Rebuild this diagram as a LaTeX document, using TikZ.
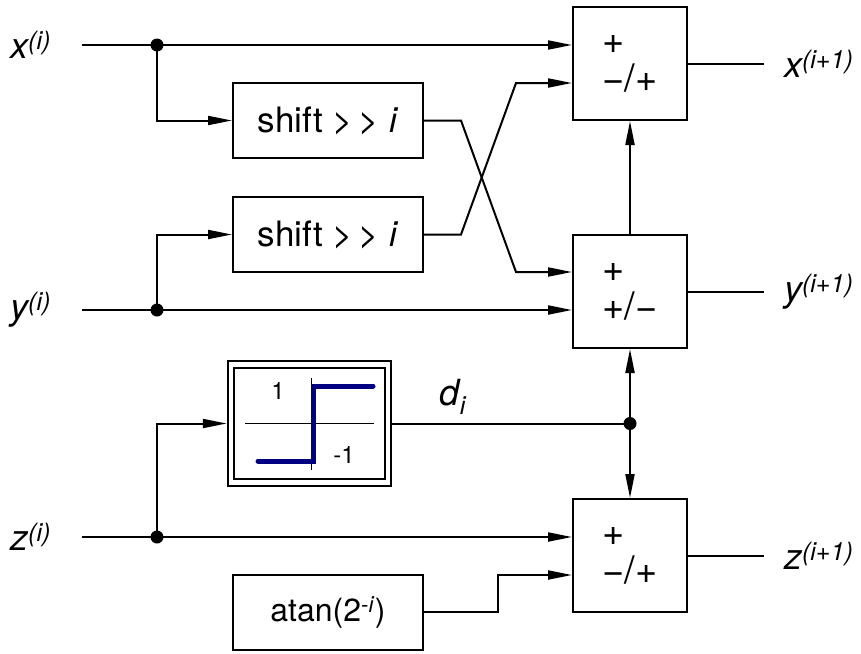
\documentclass[tikz,border=0pt]{standalone}
\usepackage{fontspec}
\setmainfont{TeX Gyre Heros}
\usetikzlibrary{arrows.meta, positioning}
\definecolor{SignBlue}{RGB}{0, 0, 128}
\newcommand{\shiftop}{shift >\,{}> \textit{i}}

\begin{document}
\begin{tikzpicture}[
  x=1pt, y=-1pt,
  line width=2pt,
  every node/.style={font=\fontsize{32}{38}\selectfont},
  box/.style={draw, minimum width=190pt, minimum height=75pt, inner sep=0pt},
  adder/.style={draw, minimum width=114pt, minimum height=113pt, inner sep=0pt,
                align=left, font=\fontsize{38}{38}\selectfont},
  signbox/.style={draw, double, double distance=4.5pt, outer sep=4.25pt,
                  minimum width=157pt, minimum height=118pt},
  lbl/.style={inner sep=0pt, font=\fontsize{36}{40}\selectfont},
  small/.style={inner sep=0pt, font=\fontsize{24}{28}\selectfont},
  arr/.style={-{Triangle[length=24pt, width=9pt]}}
]
  \useasboundingbox (0,0) rectangle (861,653);

  %% Adders
  \node[adder] (addx) at (630, 63.5)  {+\\−/+};
  \node[adder] (addy) at (630,291.5)  {+\\+/−};
  \node[adder] (addz) at (630,555.5)  {+\\−/+};

  %% Blocks
  \node[box, font=\fontsize{35}{38}\selectfont] (shx) at (328,120.5) {\shiftop};
  \node[box, font=\fontsize{35}{38}\selectfont] (shy) at (328,234.5) {\shiftop};
  \node[signbox] (sgn) at (309.5,423.5) {};
  \node[box]     (atn) at (328,612)   {atan(2\textsuperscript{-\textit{i}})};

  %% Sign curve
  \draw[line width=1pt] (245,423.5) -- (374,423.5);
  \draw[line width=1pt] (311,378) -- (311,470);
  \draw[SignBlue, line width=5pt, line cap=round] (258,461) -- (313,461) -- (313,386) -- (373,386);
  \node[small] (one)  at (278,391) {1};
  \node[small] (mone) at (344,455) {-1};

  %% Ports and junctions
  \coordinate (ax1) at ([yshift=18.5pt]addx.west);
  \coordinate (ax2) at ([yshift=-19.5pt]addx.west);
  \coordinate (ay1) at ([yshift=19.5pt]addy.west);
  \coordinate (ay2) at ([yshift=-18.5pt]addy.west);
  \coordinate (az1) at ([yshift=18.5pt]addz.west);
  \coordinate (az2) at ([yshift=-19.5pt]addz.west);
  \coordinate (xs)   at (82,45);
  \coordinate (ys)   at (82,310);
  \coordinate (zs)   at (82,537);
  \coordinate (xdot) at (157,45);
  \coordinate (ydot) at (157,310);
  \coordinate (zdot) at (157,537);
  \coordinate (ddot) at (addy.south |- sgn.east);

  %% Input labels
  \node[lbl, left=30pt of xs] (xlbl) {\textit{x\textsuperscript{(i)}}};
  \node[lbl, left=30pt of ys] (ylbl) {\textit{y\textsuperscript{(i)}}};
  \node[lbl, left=30pt of zs] (zlbl) {\textit{z\textsuperscript{(i)}}};

  %% Connectors
  \draw[arr] (xs) -- (ax1);
  \draw[arr] (xdot) |- (shx.west);
  \draw[arr] (ys) -- (ay2);
  \draw[arr] (ydot) |- (shy.west);
  \draw[arr] (shx.east) -- ++(37,0) -- ([xshift=-56pt]ay1) -- (ay1);
  \draw[arr] (shy.east) -- ++(37,0) -- ([xshift=-56pt]ax2) -- (ax2);
  \draw[arr] (addy.north) -- (addx.south);
  \draw[arr] (zdot) |- (sgn.west);
  \draw      (sgn.east) -- (ddot);
  \draw[arr] (ddot) -- (addy.south);
  \draw[arr] (ddot) -- (addz.north);
  \draw[arr] (zs) -- (az1);
  \draw[arr] (atn.east) -- ++(74,0) |- (az2);
  \node[lbl] (dlbl) at (453,397) {\textit{d\textsubscript{i}}};

  \foreach \p in {xdot, ydot, zdot, ddot}
    \fill (\p) circle (6.5pt);

  %% Outputs
  \draw (addx.east) -- ++(76,0) coordinate (xo);
  \draw (addy.east) -- ++(76,0) coordinate (yo);
  \draw (addz.east) -- ++(76,0) coordinate (zo);
  \node[lbl, right=19pt of xo] (xolbl) {\textit{x\textsuperscript{(i+1)}}};
  \node[lbl, right=19pt of yo] (yolbl) {\textit{y\textsuperscript{(i+1)}}};
  \node[lbl, right=19pt of zo] (zolbl) {\textit{z\textsuperscript{(i+1)}}};
\end{tikzpicture}
\end{document}
